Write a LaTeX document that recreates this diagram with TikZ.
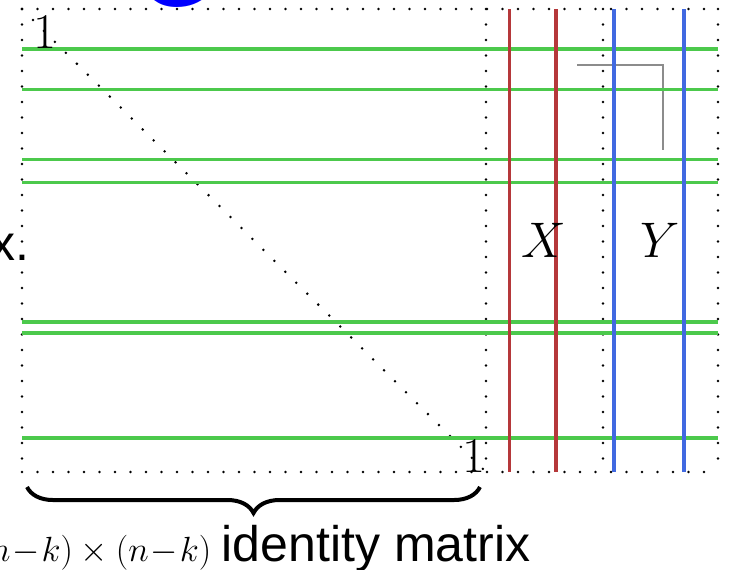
\RequirePackage{fix-cm}
\documentclass[tikz,border=0pt]{standalone}
\usepackage{fontspec}
\setsansfont{Liberation Sans}
\usetikzlibrary{decorations.pathreplacing}
\definecolor{rowgreen}{HTML}{4CC94C}
\definecolor{xred}{HTML}{B5383A}
\definecolor{yblue}{HTML}{4169E1}
\definecolor{cornergray}{HTML}{8C8C8C}
\tikzset{
  dotline/.style={line width=1.4pt, line cap=round, dash pattern=on 0pt off 7.75pt},
  rowline/.style={rowgreen, line width=1.75pt},
  xline/.style={xred, line width=1.7pt},
  yline/.style={yblue, line width=1.75pt},
  cornerline/.style={cornergray, line width=1pt},
  bigbrace/.style={decorate, decoration={brace, mirror, amplitude=13pt}, line width=2pt},
  entry/.style={inner sep=0pt, anchor=base, font=\fontsize{25}{30}\selectfont},
  caption/.style={inner sep=0pt, anchor=base},
}

\begin{document}
\begin{tikzpicture}[x=0.5pt, y=-0.5pt]
  \useasboundingbox (0,0) rectangle (731,569);

  % corners of the three blocks
  \coordinate (tl) at (22,9);
  \coordinate (bl) at (22,472);
  \coordinate (im) at (486,472);
  \coordinate (tm) at (486,9);
  \coordinate (tx) at (603,9);
  \coordinate (bx) at (603,472);
  \coordinate (tr) at (718,9);
  \coordinate (br) at (718,472);

  \draw[dotline] (tl) -- (tr) (bl) -- (br);
  \draw[dotline] (tl) -- (bl) (tm) -- (im) (tx) -- (bx) (tr) -- (br);
  \draw[dotline] (tl) -- (im);

  \coordinate (c1) at (577,64.5);
  \coordinate (c2) at (663,64.5);
  \coordinate (c3) at (663,150);
  \draw[cornerline] (c1) -- (c2) -- (c3);

  \foreach \r in {49,89.5,159.5,182.5,322,333,438}
    \draw[rowline] (22,\r) -- (718,\r);
  \foreach \c in {509.5,556}
    \draw[xline] (\c,9) -- (\c,472);
  \foreach \c in {614,684}
    \draw[yline] (\c,9) -- (\c,472);

  \node[entry] (one1) at (45,48) {$1$};
  \node[entry] (one2) at (474,472) {$1$};
  \node[entry] (xlab) at (544,257) {$X$};
  \node[entry] (ylab) at (660,257) {$Y$};

  \coordinate (b1) at (27,487);
  \coordinate (b2) at (480,487);
  \draw[bigbrace] (b1) -- (b2);
  \node[caption] (size) at (254,561)
    {\fontsize{17.5}{21}\selectfont$(n\!-\!k)\times(n\!-\!k)$ \fontsize{25}{30}\sffamily identity matrix};

  \node[caption, anchor=base east, font=\fontsize{25}{30}\sffamily] (side) at (30,260) {x.};
  \node[caption, text=blue, font=\fontsize{50}{60}\sffamily] (top) at (176,6) {G};
\end{tikzpicture}
\end{document}
